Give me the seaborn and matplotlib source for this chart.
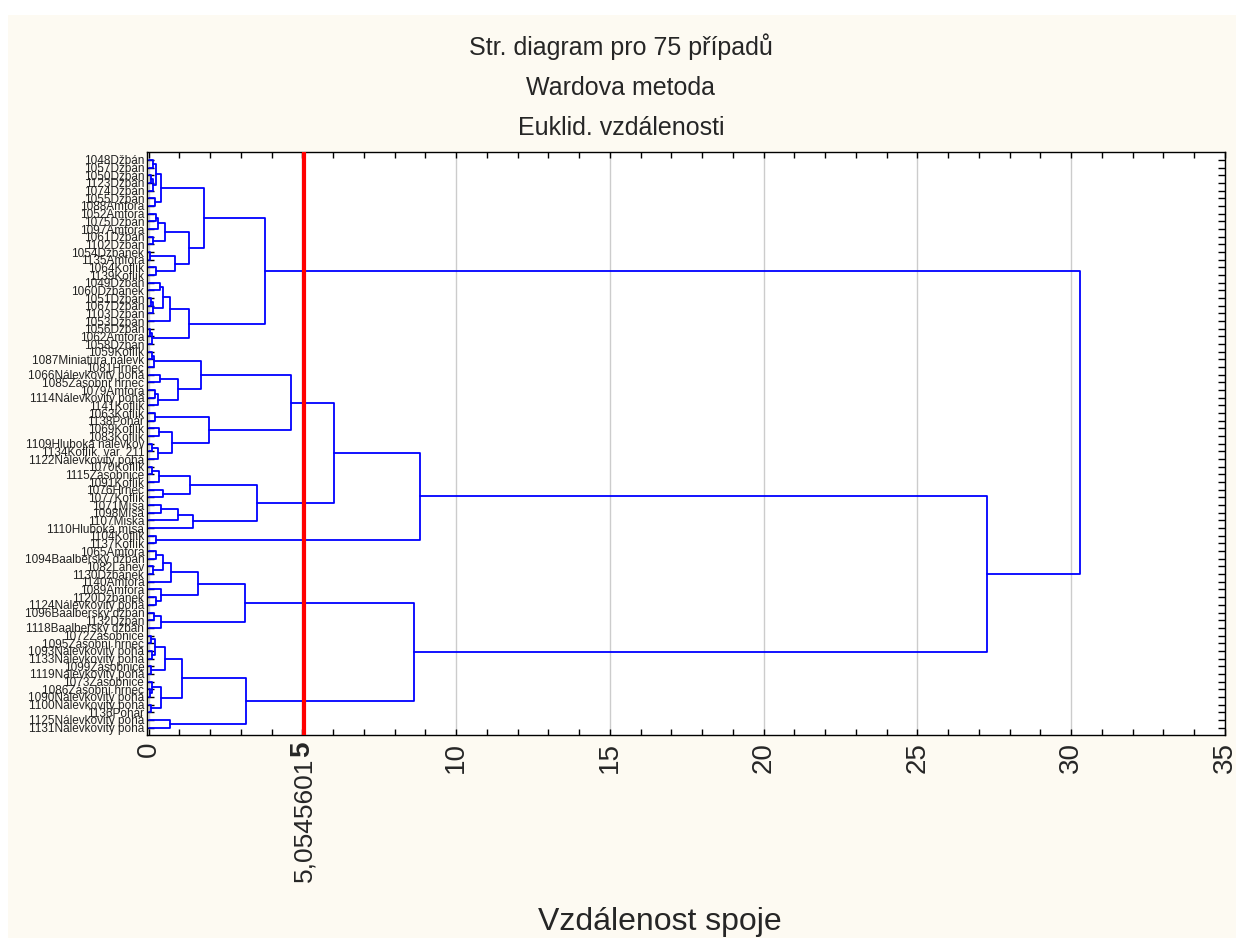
import numpy as np
import pandas as pd
import matplotlib
matplotlib.use("Agg")
import matplotlib.pyplot as plt
from matplotlib.ticker import MultipleLocator
from matplotlib.patches import Rectangle
import seaborn as sns

# ---------------- data ----------------
leaf_labels = [
    "1048Džbán", "1057Džbán", "1050Džbán", "1123Džbán", "1074Džbán", "1055Džbán",
    "1088Amfora", "1052Amfora", "1075Džbán", "1097Amfora", "1061Džbán", "1102Džbán",
    "1054Džbánek", "1135Amfora", "1064Koflík", "1139Koflík", "1049Džbán", "1060Džbánek",
    "1051Džbán", "1067Džbán", "1103Džbán", "1053Džbán", "1056Džbán", "1062Amfora",
    "1058Džbán", "1059Koflík", "1087Miniatura nálevk", "1081Hrnec",
    "1066Nálevkovitý pohá", "1085Zásobní hrnec", "1079Amfora", "1114Nálevkovitý pohá",
    "1141Koflík", "1063Koflík", "1138Pohár", "1069Koflík", "1083Koflík",
    "1109Hluboká nálevkov", "1134Koflík, var. 211", "1122Nálevkovitý pohá",
    "1070Koflík", "1115Zásobnice", "1091Koflík", "1076Hrnec", "1077Koflík",
    "1071Mísa", "1098Mísa", "1107Miska", "1110Hluboká mísa", "1104Koflík",
    "1137Koflík", "1065Amfora", "1094Baalberský džbán", "1082Láhev", "1130Džbánek",
    "1140Amfora", "1089Amfora", "1120Džbánek", "1124Nálevkovitý pohá",
    "1096Baalberský džbán", "1132Džbán", "1118Baalberský džbán", "1072Zásobnice",
    "1095Zásobní hrnec", "1093Nálevkovitý pohá", "1133Nálevkovitý pohá",
    "1099Zásobnice", "1119Nálevkovitý pohá", "1073Zásobnice", "1086Zásobní hrnec",
    "1090Nálevkovitý pohá", "1100Nálevkovitý pohá", "1136Pohár",
    "1125Nálevkovitý pohá", "1131Nálevkovitý pohá",
]

# merge table: leaves are referenced by 1-based row number, clusters by id
merge_ids = ["a", "b", "c", "d", "e", "A1", "f", "g", "h", "A2a", "i", "j", "A2b", "A2", "A",
             "k", "l", "m", "n", "o", "p", "q", "B", "T",
             "c1", "c2", "c3", "c4", "c5", "c6", "C1", "c7", "c8", "c9", "c10", "c11", "C2", "C",
             "d1", "d2", "d3", "D1", "d4", "d5", "D2", "D", "CD", "E", "CDE",
             "f1", "f2", "f3", "f4", "f5", "f6", "F1", "f7", "G", "F1p",
             "h1", "h2", "h3", "h4", "Htop", "h5", "h6", "h7", "Hbot", "H", "h8", "F2", "F",
             "R", "ROOT"]
merge_left = [1, 3, "b", "a", 6, "d", 8, "f", 11, "g", 13, 15, "i", "A2a", "A1",
              17, 19, "l", "k", "n", 23, "p", "o", "A",
              26, "c1", 29, 31, "c4", "c3", "c2", 34, 36, 38, "c9", "c8", "c7", "C1",
              41, "d1", 44, "d2", 46, "d4", "d5", "D1", "C", 50, "CD",
              52, 54, "f1", "f3", 58, 57, "f4", 60, "f7", "F1",
              63, 65, "h1", 67, "h3", 70, 69, 72, "h6", "Htop", 74, "H", "F1p",
              "CDE", "T"]
merge_right = [2, 4, 5, "c", 7, "e", 9, 10, 12, "h", 14, 16, "j", "A2b", "A2",
               18, 20, 21, "m", 22, 24, 25, "q", "B",
               27, 28, 30, 32, 33, "c5", "c6", 35, 37, 39, 40, "c10", "c11", "C2",
               42, 43, 45, "d3", 47, 48, 49, "D2", "D", 51, "E",
               53, 55, "f2", 56, 59, "f5", "f6", 61, 62, "G",
               64, 66, "h2", 68, "h4", 71, "h5", 73, "h7", "Hbot", 75, "h8", "F2",
               "F", "R"]
merge_height = [0.14, 0.08, 0.15, 0.25, 0.20, 0.41, 0.25, 0.30, 0.15, 0.55, 0.05, 0.23, 0.85, 1.30, 1.80,
                0.36, 0.08, 0.15, 0.47, 0.69, 0.05, 0.12, 1.31, 3.79,
                0.12, 0.17, 0.37, 0.20, 0.30, 0.95, 1.69, 0.20, 0.34, 0.12, 0.30, 0.75, 1.96, 4.64,
                0.10, 0.34, 0.47, 1.34, 0.39, 0.95, 1.45, 3.53, 6.03, 0.23, 8.83,
                0.25, 0.14, 0.48, 0.74, 0.25, 0.39, 1.60, 0.17, 0.41, 3.15,
                0.07, 0.10, 0.20, 0.07, 0.53, 0.05, 0.10, 0.08, 0.41, 1.09, 0.69, 3.17, 8.64,
                27.27, 30.30]

cut_distance = 5.0545601
cut_label = "5,0545601"
x_tick_values = [0, 5, 10, 15, 20, 25, 30, 35]
title_lines = ["Str. diagram pro 75 případů", "Wardova metoda", "Euklid. vzdálenosti"]
x_axis_title = "Vzdálenost spoje"

# ---------------- build dendrogram segments ----------------
pos = {i + 1: (0.0, float(i)) for i in range(len(leaf_labels))}
rows = []
for k, (nid, l, r, h) in enumerate(zip(merge_ids, merge_left, merge_right, merge_height)):
    xl, yl = pos[l]
    xr, yr = pos[r]
    for j, (x, y) in enumerate([(xl, yl), (h, yl), (h, yr), (xr, yr)]):
        rows.append({"seg": k, "order": j, "x": x, "y": y})
    pos[nid] = (h, (yl + yr) / 2.0)
seg_df = pd.DataFrame(rows)

# ---------------- figure ----------------
sns.set_style("white")
plt.rcParams["font.family"] = ["Liberation Sans", "DejaVu Sans"]

W, H = 1242, 938
fig = plt.figure(figsize=(W / 100, H / 100), dpi=100, facecolor="white")
fig.patches.append(Rectangle((8 / W, 0), (1236 - 8) / W, (H - 15) / H,
                             transform=fig.transFigure, facecolor="#fdfaf2",
                             edgecolor="none", zorder=-10))

ax = fig.add_axes([147 / W, 1 - 735 / H, (1225 - 147) / W, (735 - 152) / H])
ax.set_facecolor("white")

sns.lineplot(data=seg_df, x="x", y="y", units="seg", estimator=None, sort=False,
             color="#0000ff", linewidth=1.3, ax=ax, legend=False, zorder=3)

ax.axvline(cut_distance, color="#ff0000", linewidth=3, zorder=4)

ax.set_xlim(-0.05, 35)
ax.set_ylim(len(leaf_labels) - 0.03, -1.04)

ax.set_xticks(x_tick_values)
ax.set_xticklabels([str(v) for v in x_tick_values], rotation=90, fontsize=20)
for t in ax.get_xticklabels():
    if t.get_text() == "5":
        t.set_fontweight("bold")
ax.xaxis.set_minor_locator(MultipleLocator(1))
ax.tick_params(axis="x", which="both", direction="in", top=True, bottom=True,
               length=4, width=1, color="black", pad=5)
ax.grid(axis="x", which="major", color="#cccccc", linewidth=1, zorder=0)
ax.grid(axis="y", visible=False)

ax.set_yticks(range(len(leaf_labels)))
ax.set_yticklabels(leaf_labels, fontsize=8.5, color="#222222")
ax.tick_params(axis="y", direction="in", left=True, right=True, length=5,
               width=1, color="black", pad=2)

for s in ax.spines.values():
    s.set_color("black")
    s.set_linewidth(1)
    s.set_visible(True)

ax.set_xlabel("")
ax.set_ylabel("")

cut_px = 147 + (cut_distance + 0.05) / 35.05 * (1225 - 147)
fig.text(cut_px / W, 1 - 758 / H, cut_label, rotation=90, ha="center", va="top", fontsize=19)

for txt, yy in zip(title_lines, [47, 88, 128]):
    fig.text(0.5, 1 - yy / H, txt, ha="center", va="center", fontsize=18)

fig.text(660 / W, 1 - 922 / H, x_axis_title, ha="center", va="center", fontsize=23)

fig.savefig("out.png", dpi=100, facecolor=fig.get_facecolor())
